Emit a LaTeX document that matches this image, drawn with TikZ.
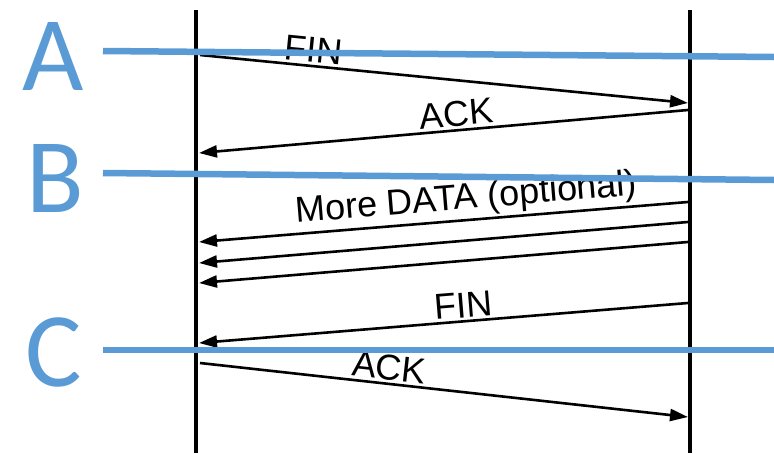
\documentclass[tikz,border=0pt]{standalone}
\usepackage{fontspec}
\setmainfont{Liberation Sans}
\newfontfamily\markfont{Carlito}
\usetikzlibrary{arrows.meta}
\definecolor{markblue}{HTML}{5B9BD5}
\tikzset{
  lifeline/.style={line width=3.2pt, black},
  msg/.style={line width=2.6pt, black, -{Triangle[length=18pt,width=12pt]}},
  msglabel/.style={sloped, above, inner sep=2.5pt, font=\fontsize{36}{40}\selectfont},
  marker/.style={line width=6.5pt, markblue},
  markletter/.style={text=markblue, inner sep=0pt, font=\markfont\fontsize{106}{110}\selectfont},
}
\begin{document}
\begin{tikzpicture}[x=1pt, y=-1pt]
  \useasboundingbox (0,0) rectangle (774,453);

  % the two end points of the connection
  \coordinate (lt) at (196,10);
  \coordinate (lb) at (196,453);
  \coordinate (rt) at (690,10);
  \coordinate (rb) at (690,453);
  \draw[lifeline] (lt) -- (lb);
  \draw[lifeline] (rt) -- (rb);

  % message end points
  \coordinate (f1s) at (200,55);  \coordinate (f1e) at (688,103);
  \coordinate (a1s) at (688,110); \coordinate (a1e) at (199,153);
  \coordinate (d1s) at (688,202); \coordinate (d1e) at (199,242);
  \coordinate (d2s) at (688,222); \coordinate (d2e) at (199,263);
  \coordinate (d3s) at (688,242); \coordinate (d3e) at (199,283);
  \coordinate (f2s) at (688,303); \coordinate (f2e) at (199,343);
  \coordinate (a2s) at (200,363); \coordinate (a2e) at (688,417);

  % messages
  \draw[msg] (f1s) -- node[msglabel, pos=0.23] (fin1) {FIN} (f1e);
  \draw[msg] (a1s) -- node[msglabel, pos=0.47] (ack1) {ACK} (a1e);
  \draw[msg] (d1s) -- node[msglabel, pos=0.45] (data) {More DATA (optional)} (d1e);
  \draw[msg] (d2s) -- (d2e);
  \draw[msg] (d3s) -- (d3e);
  \draw[msg] (f2s) -- node[msglabel, pos=0.457] (fin2) {FIN} (f2e);
  \draw[msg] (a2s) -- node[msglabel, pos=0.384] (ack2) {ACK} (a2e);

  % state markers
  \node[markletter] (ma) at (53,56) {A};
  \node[markletter] (mb) at (55,178) {B};
  \node[markletter] (mc) at (54,352) {C};
  \coordinate (aL) at (103,51);  \coordinate (aR) at (774,57);
  \coordinate (bL) at (103,173); \coordinate (bR) at (774,180);
  \coordinate (cL) at (103,350); \coordinate (cR) at (774,350);
  \draw[marker] (aL) -- (aR);
  \draw[marker] (bL) -- (bR);
  \draw[marker] (cL) -- (cR);
\end{tikzpicture}
\end{document}
